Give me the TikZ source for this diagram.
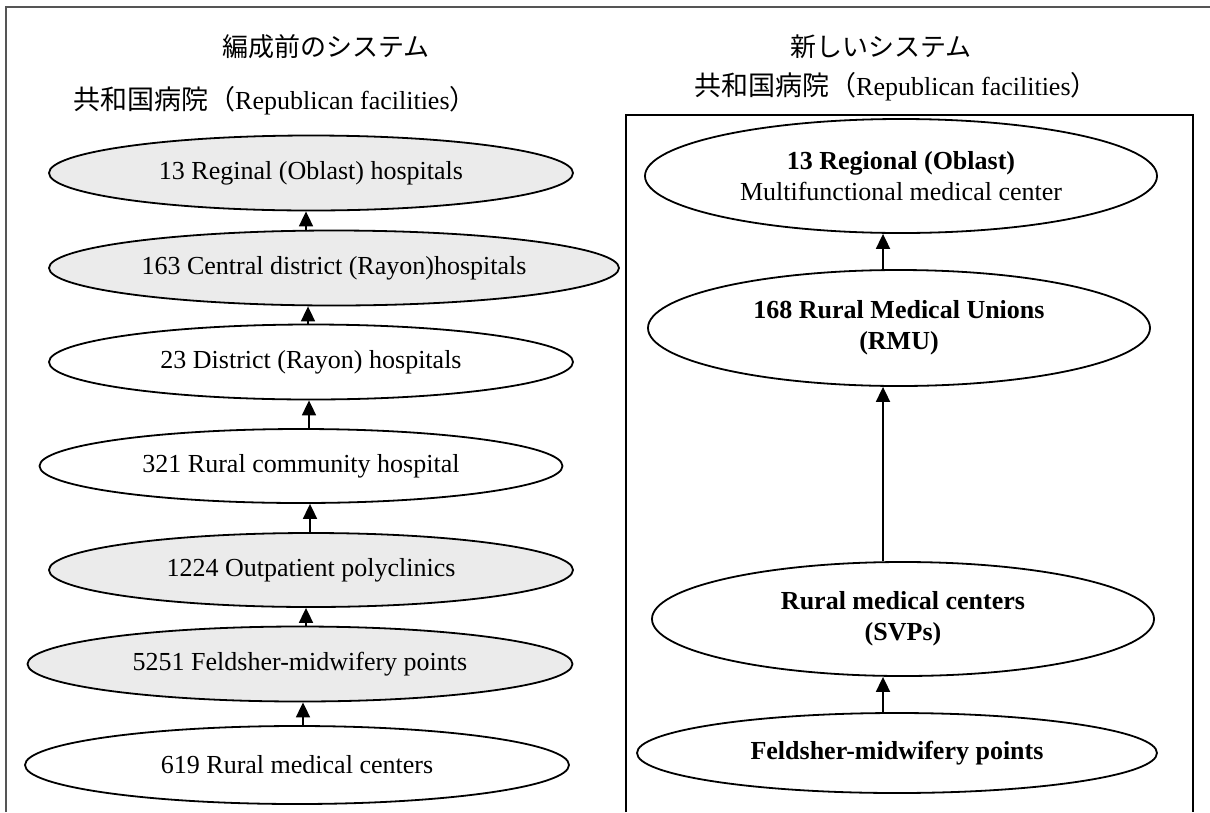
\documentclass[tikz,border=0pt]{standalone}
\usepackage{fontspec}
\setmainfont{Liberation Serif}
\newfontfamily\cjk{Noto Sans CJK JP}
\usetikzlibrary{shapes.geometric,arrows.meta}
\definecolor{nodegray}{HTML}{EBEBEB}
\definecolor{framegray}{HTML}{555555}
\newcommand{\repfac}{{\cjk\fontsize{27}{30}\selectfont 共和国病院（}Republican facilities{\cjk\fontsize{27}{30}\selectfont ）}}
\begin{document}
\begin{tikzpicture}[x=1pt,y=-1pt,
  oval/.style={ellipse,draw=black,line width=1.8pt,inner sep=0pt,align=center,
    font=\fontsize{26}{31}\selectfont},
  grayoval/.style={oval,fill=nodegray},
  whiteoval/.style={oval,fill=white},
  boldoval/.style={oval,fill=white,font=\fontsize{26}{31}\selectfont\bfseries},
  arr/.style={line width=1.8pt,-{Triangle[length=15pt,width=14pt]}},
  title/.style={font=\cjk\fontsize{26}{30}\selectfont,inner sep=0pt},
  subtitle/.style={font=\fontsize{26}{30}\selectfont,inner sep=0pt,anchor=west}]
\useasboundingbox (0,0) rectangle (1210,812);
\fill[white] (0,0) rectangle (1210,812);

% outer frame (top and left edges)
\draw[framegray,line width=1.6pt] (6,812) -- (6,7) -- (1210,7);

% headings
\node[title] (titleL) at (326,47) {編成前のシステム};
\node[title] (titleR) at (881,47) {新しいシステム};
\node[subtitle] (subL) at (73,101) {\repfac};
\node[subtitle] (subR) at (694,87) {\repfac};

% frame of the new system
\draw[black,line width=1.6pt] (626,812) -- (626,115) -- (1193,115) -- (1193,812);

% former system
\node[grayoval, minimum width=524pt, minimum height=75pt] (L1) at (311,173) {13 Reginal (Oblast) hospitals};
\node[grayoval, minimum width=570pt, minimum height=75pt] (L2) at (334,268) {163 Central district (Rayon)hospitals};
\node[whiteoval, minimum width=524pt, minimum height=75pt] (L3) at (311,362) {23 District (Rayon) hospitals};
\node[whiteoval, minimum width=523pt, minimum height=74pt] (L4) at (301,466) {321 Rural community hospital};
\node[grayoval, minimum width=524pt, minimum height=74pt] (L5) at (311,570) {1224 Outpatient polyclinics};
\node[grayoval, minimum width=545pt, minimum height=75pt] (L6) at (300,664) {5251 Feldsher-midwifery points};
\node[whiteoval, minimum width=544pt, minimum height=78pt] (L7) at (297,765) {619 Rural medical centers};

\draw[arr] ([xshift=-5pt]L2.north -| L1.south) -- ([xshift=-5pt]L1.south);
\draw[arr] ([xshift=-3pt]L3.north) -- ([xshift=-3pt]L2.south -| L3.north);
\draw[arr] ([xshift=-2pt]L4.north -| L3.south) -- ([xshift=-2pt]L3.south);
\draw[arr] ([xshift=-1pt]L5.north) -- ([xshift=-1pt]L4.south -| L5.north);
\draw[arr] ([xshift=6pt]L6.north) -- ([xshift=6pt]L5.south -| L6.north);
\draw[arr] ([xshift=6pt]L7.north) -- ([xshift=6pt]L6.south -| L7.north);

% new system
\node[whiteoval, minimum width=512pt, minimum height=114pt] (R1) at (901,176) {\textbf{13 Regional (Oblast)}\\Multifunctional medical center};
\node[boldoval, minimum width=502pt, minimum height=116pt] (R2) at (899,328) {168 Rural Medical Unions\\(RMU)};
\node[boldoval, minimum width=502pt, minimum height=114pt] (R3) at (903,619) {Rural medical centers\\(SVPs)};
\node[boldoval, minimum width=520pt, minimum height=80pt] (R4) at (897,753) {Feldsher-midwifery points};

\draw[arr] ([xshift=-16pt]R2.north) -- ([xshift=-18pt]R1.south);
\draw[arr] ([xshift=-20pt]R3.north) -- ([xshift=-16pt]R2.south);
\draw[arr] ([xshift=-14pt]R4.north) -- ([xshift=-20pt]R3.south);
\end{tikzpicture}
\end{document}
